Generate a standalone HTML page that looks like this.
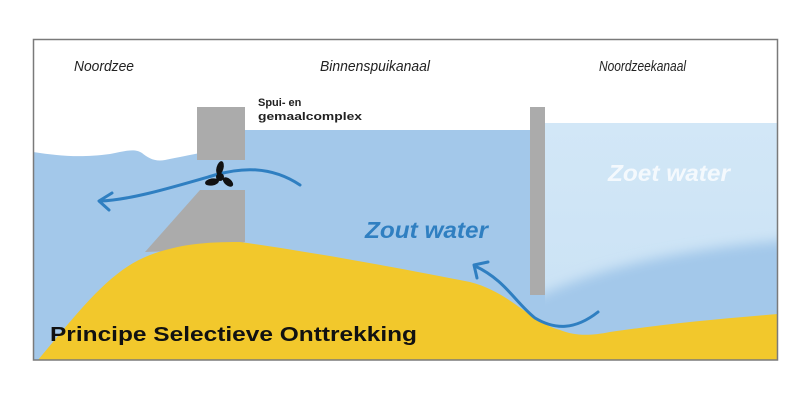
<!DOCTYPE html>
<html><head><meta charset="utf-8"><style>
html,body{margin:0;padding:0;background:#fff;}
svg{display:block;}
text{font-family:"Liberation Sans",sans-serif;}
</style></head><body>
<svg width="800" height="400" viewBox="0 0 800 400" xmlns="http://www.w3.org/2000/svg">
<defs>
<linearGradient id="fr" x1="0" y1="0" x2="0" y2="1">
<stop offset="0" stop-color="#d2e7f7"/><stop offset="1" stop-color="#c9e1f4"/>
</linearGradient>
<filter id="bl"><feGaussianBlur stdDeviation="6"/></filter>
<clipPath id="rc"><rect x="545" y="123" width="233" height="237"/></clipPath>
</defs>
<rect x="0" y="0" width="800" height="400" fill="#fff"/>
<!-- salt water left -->
<path d="M33 152 C60 156 80 158 110 154 C125 151 135 148 142 153 C148 158 155 162 165 160 C180 157 190 155 200 153 L245 150 L245 130 L532 130 L532 295 L548 295 L548 360 L33 360 Z" fill="#a3c8ea"/>
<!-- fresh water right -->
<rect x="545" y="123" width="233" height="237" fill="url(#fr)"/>
<g clip-path="url(#rc)">
<path d="M520 305 C580 275 650 252 790 240 L790 370 L520 370 Z" fill="#a3c8ea" filter="url(#bl)"/>
</g>
<!-- gate -->
<rect x="197" y="107" width="48" height="53" fill="#ababab"/>
<path d="M200 190 L245 190 L245 242 L200 250 L145 252 Z" fill="#ababab"/>
<!-- sand -->
<path d="M38 360 C80 310 110 270 150 255 C180 244 205 242 240 242 C300 250 400 268 470 282 C510 292 530 322 560 330 C575 336 590 336 610 332 C680 322 730 318 778 314 L778 360 Z" fill="#f2c82c"/>
<!-- barrier -->
<rect x="530" y="107" width="15" height="188" fill="#ababab"/>
<!-- frame -->
<rect x="33.5" y="39.5" width="744" height="320.5" fill="none" stroke="#7a7a7a" stroke-width="1.5"/>
<!-- arrows -->
<path d="M300 185 C270 165 240 168 215 175 C170 188 130 200 100 201" fill="none" stroke="#2f7fc1" stroke-width="3" stroke-linecap="round"/>
<path d="M112 193 L99 201 L109 210" fill="none" stroke="#2f7fc1" stroke-width="3" stroke-linecap="round" stroke-linejoin="round"/>
<path d="M598 312 C575 330 555 330 535 318 C515 302 505 280 475 266" fill="none" stroke="#2f7fc1" stroke-width="3" stroke-linecap="round"/>
<path d="M477 278 L474 265 L488 262" fill="none" stroke="#2f7fc1" stroke-width="3" stroke-linecap="round" stroke-linejoin="round"/>
<!-- propeller -->
<g fill="#111">
<ellipse cx="220" cy="168" rx="3.5" ry="7" transform="rotate(15 220 168)"/>
<ellipse cx="212" cy="182" rx="7" ry="3.5" transform="rotate(-10 212 182)"/>
<ellipse cx="228" cy="182" rx="6" ry="3.5" transform="rotate(40 228 182)"/>
<circle cx="220" cy="177" r="4"/>
</g>
<!-- labels -->
<text x="74" y="71" font-size="15" font-style="italic" fill="#222" textLength="60" lengthAdjust="spacingAndGlyphs">Noordzee</text>
<text x="320" y="71" font-size="15" font-style="italic" fill="#222" textLength="110" lengthAdjust="spacingAndGlyphs">Binnenspuikanaal</text>
<text x="599" y="71" font-size="15" font-style="italic" fill="#222" textLength="87" lengthAdjust="spacingAndGlyphs">Noordzeekanaal</text>
<text x="258" y="106" font-size="11" font-weight="bold" fill="#222">Spui- en</text>
<text x="258" y="120" font-size="11" font-weight="bold" fill="#222" textLength="104" lengthAdjust="spacingAndGlyphs">gemaalcomplex</text>
<text x="365" y="238" font-size="23" font-weight="bold" font-style="italic" fill="#2f7fc1" textLength="123" lengthAdjust="spacingAndGlyphs">Zout water</text>
<text x="608" y="181" font-size="23" font-weight="bold" font-style="italic" fill="#f4f9fd" textLength="122" lengthAdjust="spacingAndGlyphs">Zoet water</text>
<text x="50" y="341" font-size="20" font-weight="bold" fill="#111" textLength="367" lengthAdjust="spacingAndGlyphs">Principe Selectieve Onttrekking</text>
</svg>
</body></html>
